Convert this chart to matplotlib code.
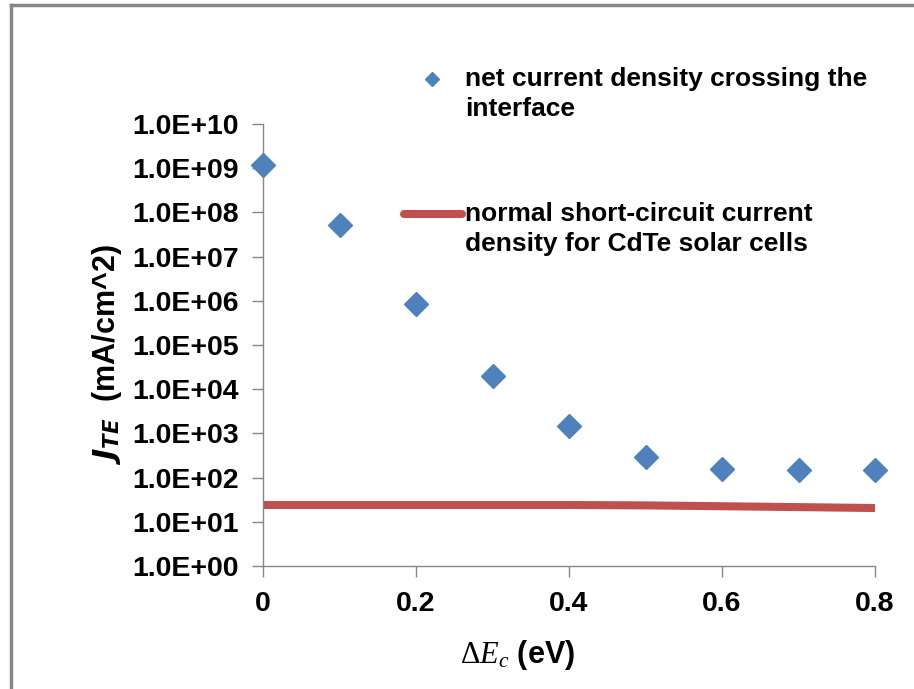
import matplotlib.pyplot as plt
from matplotlib.lines import Line2D

plt.rcParams['font.family'] = ['Liberation Sans', 'DejaVu Sans']
plt.rcParams['mathtext.fontset'] = 'custom'
plt.rcParams['mathtext.it'] = 'Liberation Serif:italic'
plt.rcParams['mathtext.rm'] = 'Liberation Serif'

# data
delta_ec = [0, 0.1, 0.2, 0.3, 0.4, 0.5, 0.6, 0.7, 0.8]
j_te = [1.2e9, 5.2e7, 8.5e5, 2.0e4, 1.5e3, 3.0e2, 1.56e2, 1.5e2, 1.5e2]
j_sc = [24, 24, 24, 24, 24, 23.5, 22.5, 21.5, 20.5]
yticks = [10.0 ** k for k in range(0, 11)]
ytick_labels = ["1.0E+%02d" % k for k in range(0, 11)]
xticks = [0, 0.2, 0.4, 0.6, 0.8]
xtick_labels = ["0", "0.2", "0.4", "0.6", "0.8"]

blue = "#4F81BD"
red = "#C0504D"
gray = "#868686"

fig = plt.figure(figsize=(9.14, 6.89), dpi=100)
ax = fig.add_axes([263/914, 1-566/689, (875-263)/914, (566-124)/689])

ax.plot(delta_ec, j_sc, color=red, lw=5.8, solid_capstyle='butt', zorder=2)
ax.plot(delta_ec, j_te, ls='none', marker='D', ms=12.5, color=blue,
        clip_on=False, zorder=3)

ax.set_yscale('log')
ax.set_ylim(1, 1e10)
ax.set_xlim(0, 0.8)
ax.set_yticks(yticks)
ax.set_yticklabels(ytick_labels)
ax.minorticks_off()
ax.set_xticks(xticks)
ax.set_xticklabels(xtick_labels)
for lab in ax.get_xticklabels() + ax.get_yticklabels():
    lab.set_fontweight('bold')
    lab.set_fontsize(20.5)
ax.tick_params(axis='both', direction='out', length=8, width=1, color=gray)
ax.tick_params(axis='y', pad=9.5)
ax.tick_params(axis='x', pad=10)

for s in ['top', 'right']:
    ax.spines[s].set_visible(False)
for s in ['left', 'bottom']:
    ax.spines[s].set_color(gray)
    ax.spines[s].set_linewidth(1)

ax.set_ylabel(r"$\mathbfit{J}_{\mathbfit{TE}}$  (mA/cm^2)", fontsize=22, fontweight='bold')
ax.yaxis.set_label_coords((124-263)/612, (566-355)/442)
ax.set_xlabel(r"$\Delta E_c$ (eV)", fontsize=22, fontweight='bold')
ax.xaxis.set_label_coords((518-263)/612, -(655-566)/442)
ax.xaxis.label.set_va('center')

# legend drawn by hand
fig.add_artist(Line2D([432/914], [1-79/689], marker='D', ms=7, color=blue, ls='none'))
fig.text(465/914, 1-94/689, "net current density crossing the\ninterface", fontsize=19,
         fontweight='bold', va='center', ha='left', linespacing=1.3)
fig.add_artist(Line2D([404/914, 462/914], [1-214/689, 1-214/689], color=red, lw=5.8,
                      solid_capstyle='round'))
fig.text(465/914, 1-229/689, "normal short-circuit current\ndensity for CdTe solar cells", fontsize=19,
         fontweight='bold', va='center', ha='left', linespacing=1.3)

# chart frame
fig.add_artist(Line2D([11/914, 11/914], [0, 1-5/689], color=gray, lw=2.5))
fig.add_artist(Line2D([11/914, 1], [1-5/689, 1-5/689], color=gray, lw=2.5))

fig.savefig("out.png", dpi=100)
